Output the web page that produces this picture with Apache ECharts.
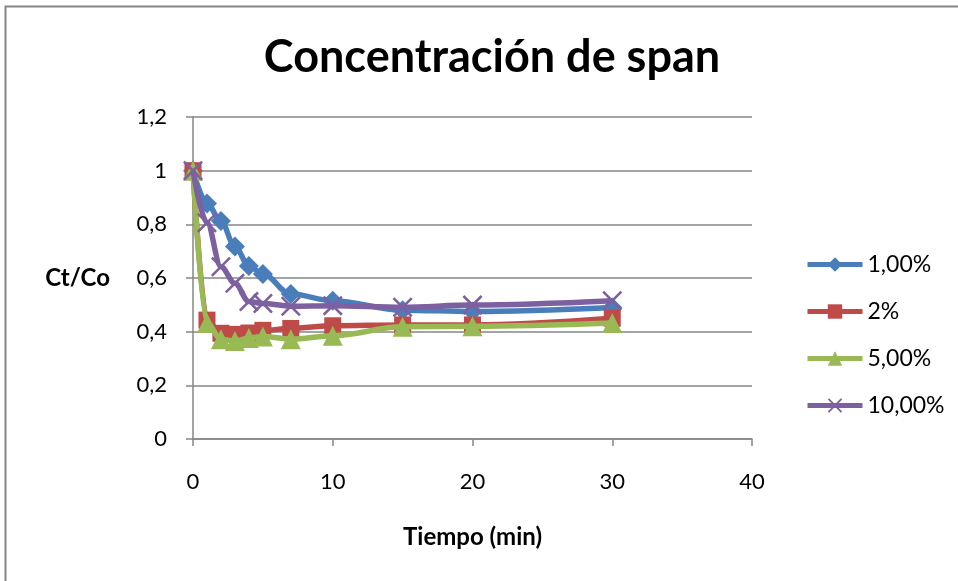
<!DOCTYPE html>
<html>
<head>
<meta charset="utf-8">
<script src="https://cdn.jsdelivr.net/npm/echarts@6/dist/echarts.min.js"></script>
<style>
html,body{margin:0;padding:0;background:#fff;}
#c{width:958px;height:581px;}
</style>
</head>
<body>
<div id="c"></div>
<script>
var times = [0, 1, 2, 3, 4, 5, 7, 10, 15, 20, 30];
var seriesNames = ['1,00%', '2%', '5,00%', '10,00%'];
var s1 = [1.0, 0.878, 0.812, 0.717, 0.645, 0.615, 0.540, 0.515, 0.480, 0.475, 0.490];
var s2 = [1.0, 0.443, 0.394, 0.390, 0.395, 0.405, 0.412, 0.422, 0.425, 0.425, 0.450];
var s5 = [1.0, 0.432, 0.372, 0.365, 0.376, 0.382, 0.372, 0.385, 0.418, 0.420, 0.432];
var s10 = [1.0, 0.806, 0.642, 0.580, 0.512, 0.505, 0.495, 0.497, 0.491, 0.499, 0.515];
var yTicks = ['0', '0,2', '0,4', '0,6', '0,8', '1', '1,2'];

var font = 'Lato, "Open Sans", sans-serif';
var colors = ['#4A7EBB', '#BE4B48', '#98B954', '#7D60A0'];
var symbols = [
  'diamond',
  'rect',
  'triangle',
  'path://M0,0.9 L0.9,0 L10,9.1 L9.1,10 Z M9.1,0 L10,0.9 L0.9,10 L0,9.1 Z'
];
var symSizes = [20, 17, 20, 20];
var datas = [s1, s2, s5, s10];

function pairs(arr) {
  return times.map(function (t, i) { return [t, arr[i]]; });
}

var series = datas.map(function (d, k) {
  return {
    name: seriesNames[k],
    type: 'line',
    data: pairs(d),
    smooth: 0.35,
    smoothMonotone: 'x',
    symbol: symbols[k],
    symbolSize: symSizes[k],
    showAllSymbol: true,
    lineStyle: { color: colors[k], width: 5.5 },
    itemStyle: { color: colors[k] },
    emphasis: { disabled: true },
    z: 2 + k
  };
});

var chart = echarts.init(document.getElementById('c'), null, { renderer: 'canvas' });
chart.setOption({
  animation: false,
  backgroundColor: '#fff',
  title: {
    text: 'Concentración de span',
    left: 487,
    textAlign: 'center',
    top: 30,
    textStyle: { fontFamily: font, fontWeight: 'bold', fontSize: 45, color: '#000' }
  },
  legend: {
    orient: 'vertical',
    left: 800,
    top: 248,
    itemWidth: 55,
    itemHeight: 18,
    itemGap: 24,
    lineStyle: { width: 5 },
    textStyle: { fontFamily: font, fontSize: 23, color: '#000' },
    data: seriesNames
  },
  grid: { left: 193, right: 206, top: 117, bottom: 142, containLabel: false },
  xAxis: {
    type: 'value',
    min: 0, max: 40, interval: 10,
    name: 'Tiempo (min)',
    nameLocation: 'middle',
    nameGap: 86,
    nameTextStyle: { fontFamily: font, fontWeight: 'bold', fontSize: 24, color: '#000' },
    axisLine: { lineStyle: { color: '#868686', width: 1.5 } },
    axisTick: { show: true, inside: false, length: 7, lineStyle: { color: '#868686', width: 1.5 } },
    axisLabel: { fontFamily: font, fontSize: 22, color: '#000', margin: 32 },
    splitLine: { show: false }
  },
  yAxis: {
    type: 'value',
    min: 0, max: 1.2, interval: 0.2,
    name: 'Ct/Co',
    nameLocation: 'middle',
    nameRotate: 0,
    nameGap: 83,
    nameTextStyle: { fontFamily: font, fontWeight: 'bold', fontSize: 24, color: '#000', align: 'right', padding: [16, 0, 0, 0] },
    axisLine: { show: true, lineStyle: { color: '#868686', width: 1.5 } },
    axisTick: { show: true, inside: false, length: 7, lineStyle: { color: '#868686', width: 1.5 } },
    axisLabel: {
      fontFamily: font, fontSize: 22, color: '#000', margin: 26,
      formatter: function (v) { return yTicks[Math.round(v / 0.2)]; }
    },
    splitLine: { show: true, lineStyle: { color: '#868686', width: 1.5 } }
  },
  graphic: [{
    type: 'rect',
    shape: { x: 5.5, y: 6.5, width: 1000, height: 1000 },
    style: { fill: 'none', stroke: '#868686', lineWidth: 2 },
    silent: true,
    z: 0
  }],
  series: series
});
</script>
</body>
</html>
